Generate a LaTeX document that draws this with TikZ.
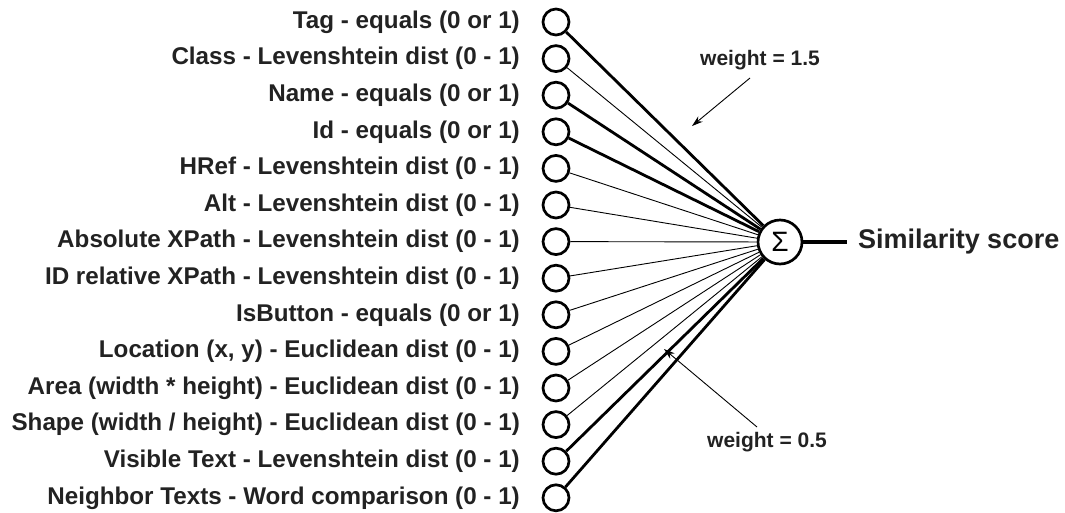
\documentclass[tikz,border=0pt]{standalone}
\usepackage{fontspec}
\setmainfont{Liberation Sans}
\usetikzlibrary{arrows.meta}
\definecolor{txt}{HTML}{222222}
\begin{document}
\begin{tikzpicture}[x=1pt,y=-1pt,
  inp/.style={circle,draw,line width=2.7pt,minimum size=26pt,inner sep=0pt},
  sumnode/.style={circle,draw,line width=2.7pt,minimum size=44pt,inner sep=0pt,font=\fontsize{28}{32}\selectfont},
  lbl/.style={anchor=east,text=txt,font=\bfseries\fontsize{24.2}{28}\selectfont,inner sep=0pt},
  thin/.style={line width=0.9pt},
  thick/.style={line width=2.8pt},
  note/.style={text=txt,font=\bfseries\fontsize{21}{24}\selectfont,inner sep=0pt},
  pointer/.style={line width=0.9pt,-{Stealth[length=11pt,width=7pt]}}]
\useasboundingbox (0,0) rectangle (1065,512);
\node[sumnode] (s) at (780,242) {Σ};
\foreach \i/\t/\w in {
 0/{Tag - equals (0 or 1)}/thick,
 1/{Class - Levenshtein dist (0 - 1)}/thin,
 2/{Name - equals (0 or 1)}/thick,
 3/{Id - equals (0 or 1)}/thick,
 4/{HRef - Levenshtein dist (0 - 1)}/thin,
 5/{Alt - Levenshtein dist (0 - 1)}/thin,
 6/{Absolute XPath - Levenshtein dist (0 - 1)}/thin,
 7/{ID relative XPath - Levenshtein dist (0 - 1)}/thin,
 8/{IsButton - equals (0 or 1)}/thin,
 9/{Location (x, y) - Euclidean dist (0 - 1)}/thin,
 10/{Area (width * height) - Euclidean dist (0 - 1)}/thin,
 11/{Shape (width / height) - Euclidean dist (0 - 1)}/thin,
 12/{Visible Text - Levenshtein dist (0 - 1)}/thick,
 13/{Neighbor Texts - Word comparison (0 - 1)}/thick}{
  \node[inp] (c\i) at (556,22+36.6*\i) {};
  \node[lbl] (l\i) at (520,22+36.6*\i) {\t};
  \draw[\w] (c\i) -- (s);
}
\coordinate (oend) at (847,242);
\draw[line width=3.2pt] (s) -- (oend);
\node[anchor=west,text=txt,font=\bfseries\fontsize{27}{31}\selectfont,inner sep=0pt] (out) at (858,242) {Similarity score};
\node[note] (w1) at (760,60) {weight = 1.5};
\coordinate (a1) at (692,126);
\draw[pointer] (750,78) -- (a1);
\node[note] (w2) at (767,442) {weight = 0.5};
\coordinate (a2) at (664,349);
\draw[pointer] (757,427) -- (a2);
\end{tikzpicture}
\end{document}
